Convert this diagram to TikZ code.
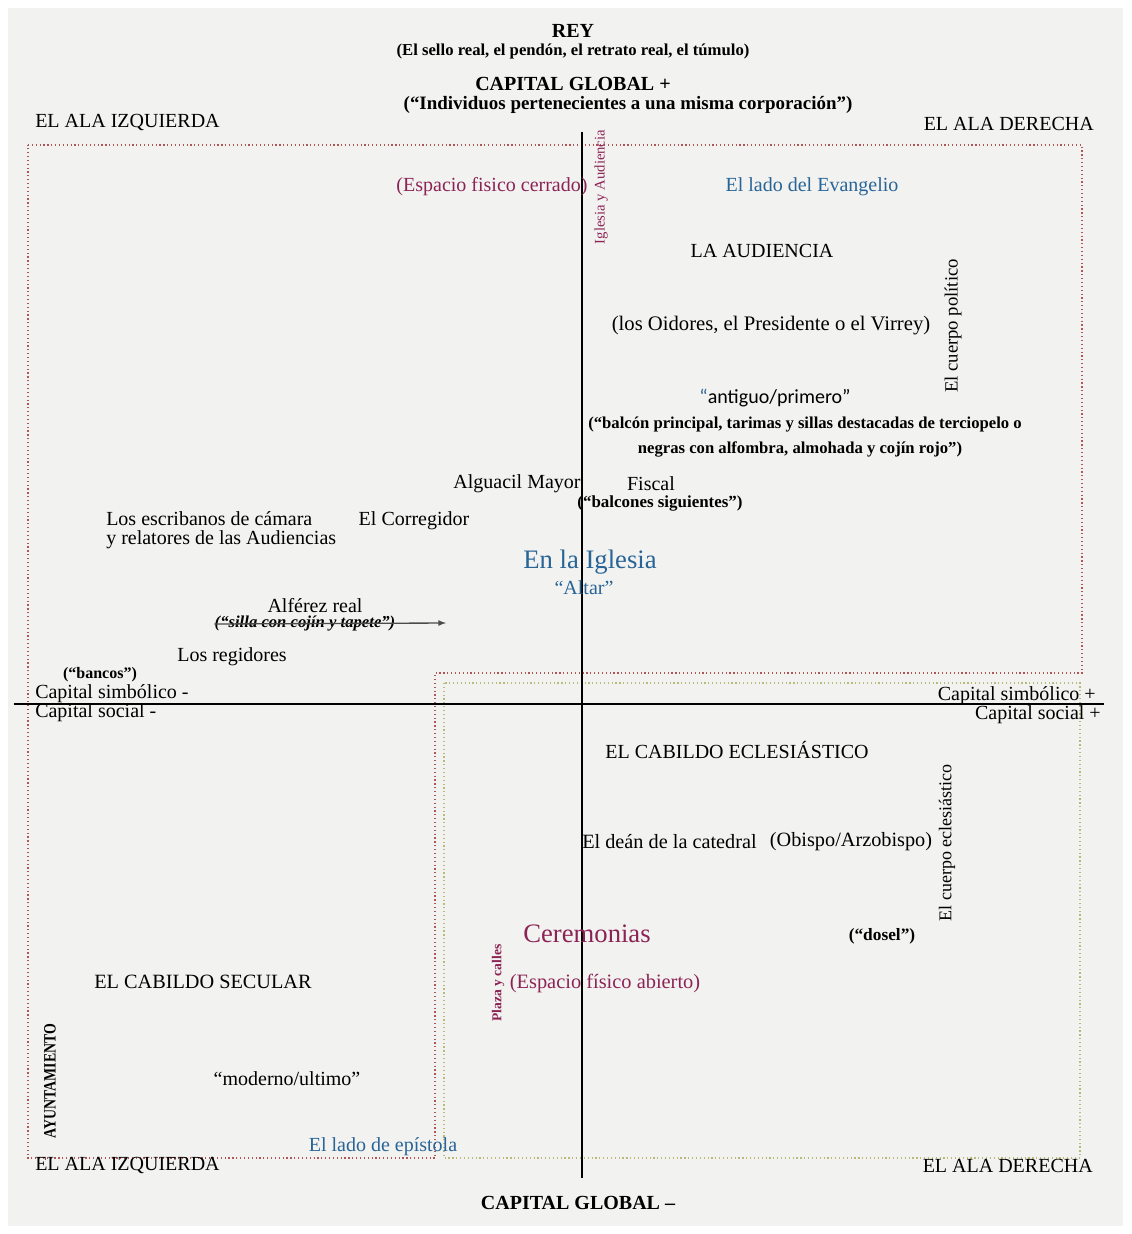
\documentclass[tikz,border=0pt]{standalone}
\usepackage{fontspec}
\usepackage{graphicx}
\setmainfont{Liberation Serif}
\newfontfamily\calibrifont{Carlito}
\definecolor{paper}{RGB}{242,242,241}
\definecolor{evangelio}{RGB}{40,100,150}
\definecolor{espacio}{RGB}{140,35,85}
\definecolor{redline}{RGB}{175,85,85}
\definecolor{oliveline}{RGB}{185,185,120}

\begin{document}
\begin{tikzpicture}[x=0.75pt, y=-0.75pt,
		txt/.style = {inner sep = 0pt, font = \fontsize{15}{17}\selectfont},
		head/.style = {inner sep = 0pt, font = \bfseries\fontsize{15}{17}\selectfont},
		note/.style = {inner sep = 0pt, font = \bfseries\fontsize{12.5}{14}\selectfont},
		tiny/.style = {inner sep = 0pt, font = \bfseries\fontsize{13}{14}\selectfont},
		big/.style = {inner sep = 0pt, font = \fontsize{20}{22}\selectfont},
		axis/.style = {line width = 1.5pt},
		zone/.style = {dotted, line width = 0.9pt}]
				\useasboundingbox (0,0) rectangle (1131,1234);
				\fill[white] (0,0) rectangle (1131,1234);
				\fill[paper] (8,8) rectangle (1123,1226);
				
				\draw[zone, redline] (28,145) -- (1082,145) -- (1082,673) -- (435,673) -- (435,1158) -- (28,1158) -- cycle;
				\draw[zone, oliveline] (444,683) rectangle (1080,1158);
				
				\coordinate (axis_top) at (582,132);
				\coordinate (axis_bottom) at (582,1178);
				\coordinate (axis_left) at (14,704);
				\coordinate (axis_right) at (1104,704);
				\draw[axis] (axis_top) -- (axis_bottom);
				\draw[axis] (axis_left) -- (axis_right);
				
				\node[head] at (573,31) (rey) {REY};
				\node[note] at (573,51) (sello) {(El sello real, el pendón, el retrato real, el túmulo)};
				\node[head] at (573,84) (global_pos) {CAPITAL GLOBAL +};
				\node[txt, font = \bfseries\fontsize{14.2}{16}\selectfont] at (628,105) (corporacion) {(“Individuos pertenecientes a una misma corporación”)};
				
				\node[txt, anchor = west] at (35,123) (izq_top) {EL ALA IZQUIERDA};
				\node[txt, anchor = east] at (1094,124) (der_top) {EL ALA DERECHA};
				
				\node[txt, text = espacio] at (492,187) (cerrado) {(Espacio fisico cerrado)};
				\node[txt, text = espacio, rotate = 90, font = \fontsize{11}{13}\selectfont] at (601,187) (iglesia_audiencia) {Iglesia y Audiencia};
				\node[txt, text = evangelio] at (812,187) (evangelio) {El lado del Evangelio};
				
				\node[txt] at (762,251) (audiencia) {LA AUDIENCIA};
				\node[txt, font = \fontsize{15.5}{18}\selectfont] at (771,326) (oidores) {(los Oidores, el Presidente o el Virrey)};
				\node[txt, rotate = 90, font = \fontsize{14}{16}\selectfont] at (953,326) (cuerpo_politico) {El cuerpo político};
				\node[txt, font = \calibrifont\fontsize{15}{17}\selectfont] at (775,398) (antiguo) {\textcolor{evangelio}{“}antiguo/primero”};
				\node[note] at (805,425) (balcon) {(“balcón principal, tarimas y sillas destacadas de terciopelo o};
				\node[note] at (800,449) (alfombra) {negras con alfombra, almohada y cojín rojo”)};
				
				\node[txt] at (517,484) (alguacil) {Alguacil Mayor};
				\node[txt] at (651,484) (fiscal) {Fiscal};
				\node[note, font = \bfseries\fontsize{12.7}{14}\selectfont] at (660,503) (balcones) {(“balcones siguientes”)};
				\node[txt, anchor = west, align = left, font = \fontsize{15}{14.5}\selectfont] at (106,530) (escribanos) {Los escribanos de cámara\\y relatores de las Audiencias};
				\node[txt] at (414,521) (corregidor) {El Corregidor};
				
				\node[big, text = evangelio] at (590,562) (en_iglesia) {En la Iglesia};
				\node[txt, text = evangelio] at (584,588) (altar) {“Altar”};
				
				\node[txt] at (315,606) (alferez) {Alférez real};
				\node[tiny, font = \bfseries\itshape\fontsize{12.5}{14}\selectfont] at (305,624) (silla) {(“silla con cojín y tapete”)};
				\coordinate (silla_tip) at (446,623);
				\draw[-latex, line width = 1pt, gray!60!black] (silla.west) -- (silla_tip);
				
				\node[txt] at (232,657) (regidores) {Los regidores};
				\node[tiny, font = \bfseries\fontsize{12}{13}\selectfont] at (100,675) (bancos) {(“bancos”)};
				
				\node[txt, anchor = west] at (35,694) (simbolico_neg) {Capital simbólico -};
				\node[txt, anchor = west] at (35,713) (social_neg) {Capital social -};
				\node[txt, anchor = east] at (1096,696) (simbolico_pos) {Capital simbólico +};
				\node[txt, anchor = east] at (1101,715) (social_pos) {Capital social +};
				
				\node[txt] at (737,750) (cabildo_ecl) {EL CABILDO ECLESIÁSTICO};
				\node[txt, anchor = west, font = \fontsize{15.2}{17}\selectfont] at (582,842) (dean) {El deán de la catedral};
				\node[txt, font = \fontsize{15.2}{17}\selectfont] at (851,842) (obispo) {(Obispo/Arzobispo)};
				\node[txt, rotate = 90, font = \fontsize{13.5}{15}\selectfont] at (947,843) (cuerpo_ecl) {El cuerpo eclesiástico};
				
				\node[big, text = espacio] at (587,934) (ceremonias) {Ceremonias};
				\node[tiny] at (882,936) (dosel) {(“dosel”)};
				\node[txt, text = espacio, rotate = 90, font = \bfseries\fontsize{10.2}{12}\selectfont] at (498,983) (plaza) {Plaza y calles};
				\node[txt, text = espacio, font = \fontsize{15.3}{17}\selectfont] at (605,983) (abierto) {(Espacio físico abierto)};
				
				\node[txt, font = \fontsize{15.2}{17}\selectfont] at (203,982) (cabildo_sec) {EL CABILDO SECULAR};
				\node[txt, rotate = 90, font = \bfseries\fontsize{13}{14}\selectfont] at (50,1081) (ayuntamiento) {\scalebox{0.8}[1]{AYUNTAMIENTO}};
				\node[txt] at (287,1079) (moderno) {“moderno/ultimo”};
				\node[txt, text = evangelio] at (383,1147) (epistola) {El lado de epístola};
				
				\node[txt, anchor = west] at (35,1165) (izq_bottom) {EL ALA IZQUIERDA};
				\node[txt, anchor = east] at (1093,1166) (der_bottom) {EL ALA DERECHA};
				\node[head] at (578,1203) (global_neg) {CAPITAL GLOBAL –};
			\end{tikzpicture}
\end{document}
